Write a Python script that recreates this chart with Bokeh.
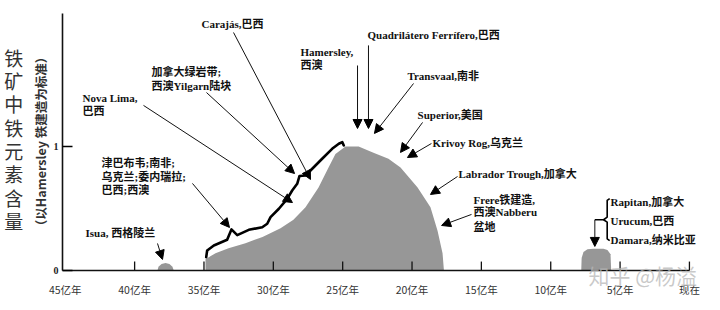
from bokeh.plotting import figure
from bokeh.models import Range1d, FixedTicker, Label, Arrow, NormalHead
from bokeh.embed import file_html
from bokeh.resources import INLINE

# ---------------- data ----------------
# main Precambrian BIF pulse (age in 亿年, relative Fe content)
main_age = [34.89, 34.89, 34.17, 33.23, 32.01, 30.78, 29.48, 28.55, 27.68, 26.74, 26.02, 25.52,
            24.80, 23.85, 22.78, 21.70, 20.83, 19.60, 18.67, 18.16, 17.80, 17.70]
main_val = [0.0, 0.09, 0.14, 0.18, 0.22, 0.27, 0.34, 0.41, 0.51, 0.67, 0.83, 0.94,
            1.0, 1.0, 0.95, 0.90, 0.83, 0.67, 0.51, 0.32, 0.14, 0.0]
# Isua bump
isua_age = [38.35, 38.28, 38.06, 37.77, 37.49, 37.27, 37.18]
isua_val = [0.0, 0.03, 0.052, 0.06, 0.052, 0.03, 0.0]
# Neoproterozoic (Rapitan / Urucum / Damara) bump
neo_age = [7.80, 7.77, 7.64, 7.35, 6.92, 6.20, 5.91, 5.69, 5.64]
neo_val = [0.0, 0.10, 0.15, 0.172, 0.175, 0.175, 0.165, 0.13, 0.0]

x_ticks = [45, 40, 35, 30, 25, 20, 15, 10, 5, 0]
x_tick_labels = ["45亿年", "40亿年", "35亿年", "30亿年", "25亿年", "20亿年", "15亿年", "10亿年", "5亿年", "现在"]
inner_ticks = [40, 35, 30, 25, 20, 15, 10, 5, 0]
y_ticks = [0, 1]
y_tick_labels = ["0", "1"]

# staircase bracket of deposits on rising limb
bracket_age = [34.84, 34.77, 34.29, 33.33, 33.02, 32.60, 31.77, 30.80, 30.44, 30.20, 29.60, 29.00,
               28.64, 28.28, 28.11, 27.68, 27.32, 26.48, 25.76, 25.28, 25.03, 24.92]
bracket_val = [0.107, 0.161, 0.202, 0.248, 0.331, 0.285, 0.328, 0.349, 0.377, 0.43, 0.498, 0.578,
               0.645, 0.699, 0.762, 0.766, 0.806, 0.901, 0.981, 1.022, 1.035, 1.008]

# annotations: text, age, level
notes = [
    ("Carajás,巴西", 35.18, 1.984),
    ("加拿大绿岩带;", 38.78, 1.597),
    ("西澳Yilgarn陆块", 38.78, 1.484),
    ("Nova  Lima,", 43.76, 1.387),
    ("巴西", 43.76, 1.29),
    ("Hamersley,", 28.04, 1.758),
    ("西澳", 28.04, 1.653),
    ("Quadrilátero  Ferrífero,巴西", 23.21, 1.895),
    ("Transvaal,南非", 20.33, 1.565),
    ("Superior,美国", 19.6, 1.25),
    ("Krivoy Rog,乌克兰", 18.52, 1.032),
    ("Labrador  Trough,加拿大", 16.65, 0.782),
    ("Frere铁建造,", 15.57, 0.565),
    ("西澳Nabberu", 15.57, 0.468),
    ("盆地", 15.57, 0.347),
    ("Rapitan,加拿大", 5.69, 0.551),
    ("Urucum,巴西", 5.69, 0.403),
    ("Damara,纳米比亚", 5.69, 0.242),
    ("Isua, 西格陵兰", 43.54, 0.306),
    ("津巴布韦;南非;", 42.39, 0.863),
    ("乌克兰;委内瑞拉;", 42.39, 0.75),
    ("巴西;西澳", 42.39, 0.653),
]
arrows = [
    (32.87, 1.919, 27.32, 0.734),
    (34.82, 1.435, 28.47, 0.782),
    (39.36, 1.331, 28.62, 0.548),
    (23.93, 1.653, 23.93, 1.145),
    (23.14, 1.815, 23.14, 1.145),
    (19.89, 1.508, 22.71, 1.105),
    (19.24, 1.194, 20.83, 0.952),
    (18.60, 1.024, 20.33, 0.911),
    (16.72, 0.758, 18.67, 0.613),
    (15.71, 0.452, 17.87, 0.363),
    (38.35, 0.218, 37.99, 0.089),
    (35.83, 0.702, 33.16, 0.347),
    (6.82, 0.409, 6.82, 0.194),
]
brace_age = [5.75, 5.93, 5.93, 6.19, 5.93, 5.93, 5.75]
brace_val = [0.58, 0.565, 0.43, 0.409, 0.39, 0.255, 0.24]
nub_age = [6.19, 6.82]
nub_val = [0.409, 0.409]

ylab_chars = list("铁矿中铁元素含量")
ylab_levels = [1.720, 1.532, 1.344, 1.156, 0.968, 0.780, 0.591, 0.403]

# ---------------- figure ----------------
# plot frame spans the whole canvas; axes sit at fixed data locations
p = figure(width=720, height=310, x_range=Range1d(49.67, -2.24), y_range=Range1d(-0.3226, 2.177),
           output_backend="svg", toolbar_location=None,
           min_border_left=0, min_border_right=0, min_border_top=0, min_border_bottom=0)
p.outline_line_color = None
p.grid.visible = False
p.background_fill_color = "white"

GRAY = "#979797"
p.varea(x=main_age, y1=0, y2=main_val, fill_color=GRAY)
p.varea(x=isua_age, y1=0, y2=isua_val, fill_color=GRAY)
p.varea(x=neo_age, y1=0, y2=neo_val, fill_color=GRAY)

p.segment(x0=inner_ticks, y0=[0] * len(inner_ticks), x1=inner_ticks, y1=[0.072] * len(inner_ticks),
          line_color="#111111", line_width=1.3)

p.line(bracket_age, bracket_val, line_color="black", line_width=2.6, line_join="round", line_cap="round")
p.line(brace_age, brace_val, line_color="black", line_width=1.6, line_join="round")
p.line(nub_age, nub_val, line_color="black", line_width=1.3)

for a0, l0, a1, l1 in arrows:
    p.add_layout(Arrow(x_start=a0, y_start=l0, x_end=a1, y_end=l1, line_color="#111111", line_width=1,
                       end=NormalHead(size=9, fill_color="black", line_color="black", line_width=1)))

FONT = "Liberation Serif, Noto Sans CJK SC"
for txt, a, l in notes:
    p.add_layout(Label(x=a, y=l, text=txt, text_font=FONT, text_font_size="11px", text_font_style="bold",
                       text_color="#111111", text_align="left", text_baseline="middle"))

# axes
xa = p.xaxis[0]
xa.fixed_location = 0
xa.bounds = (0, 45.2)
xa.ticker = FixedTicker(ticks=x_ticks)
xa.major_label_overrides = {t: s for t, s in zip(x_ticks, x_tick_labels)}
xa.major_tick_in = 0
xa.major_tick_out = 0
xa.minor_tick_line_color = None
xa.major_label_standoff = 12
xa.major_label_text_font = "Noto Sans CJK SC"
xa.major_label_text_font_size = "10.5px"
xa.major_label_text_color = "#333333"
xa.axis_line_color = "#111111"
xa.axis_line_width = 1.6

ya = p.yaxis[0]
ya.fixed_location = 45.2
ya.bounds = (0, 2.073)
ya.ticker = FixedTicker(ticks=y_ticks)
ya.major_label_overrides = {t: s for t, s in zip(y_ticks, y_tick_labels)}
ya.major_tick_in = 10
ya.major_tick_out = 0
ya.minor_tick_line_color = None
ya.major_label_standoff = 4
ya.major_label_text_font = "Liberation Serif"
ya.major_label_text_font_size = "10px"
ya.major_label_text_font_style = "bold"
ya.major_label_text_color = "#222222"
ya.axis_line_color = "#111111"
ya.axis_line_width = 1.6
ya.major_tick_line_width = 1.3

# y-axis title: stacked characters
for ch, l in zip(ylab_chars, ylab_levels):
    p.add_layout(Label(x=48.71, y=l, text=ch, text_font="Noto Sans CJK SC", text_font_size="19px",
                       text_color="#333333", text_align="center", text_baseline="middle"))
p.add_layout(Label(x=46.79, y=1.04, text="（以Hamersley 铁建造为标准）", angle=1.5708,
                   text_font="Noto Sans CJK SC", text_font_size="12.5px", text_font_style="bold",
                   text_color="#333333", text_align="center", text_baseline="middle"))

# watermark
p.add_layout(Label(x=7.28, y=-0.035, text="知乎 @杨溢", text_font="Noto Sans CJK SC",
                   text_font_size="21px", text_color="#b8b8b8", text_alpha=0.75,
                   text_align="left", text_baseline="middle"))

open("out.html", "w").write(file_html(p, INLINE))
